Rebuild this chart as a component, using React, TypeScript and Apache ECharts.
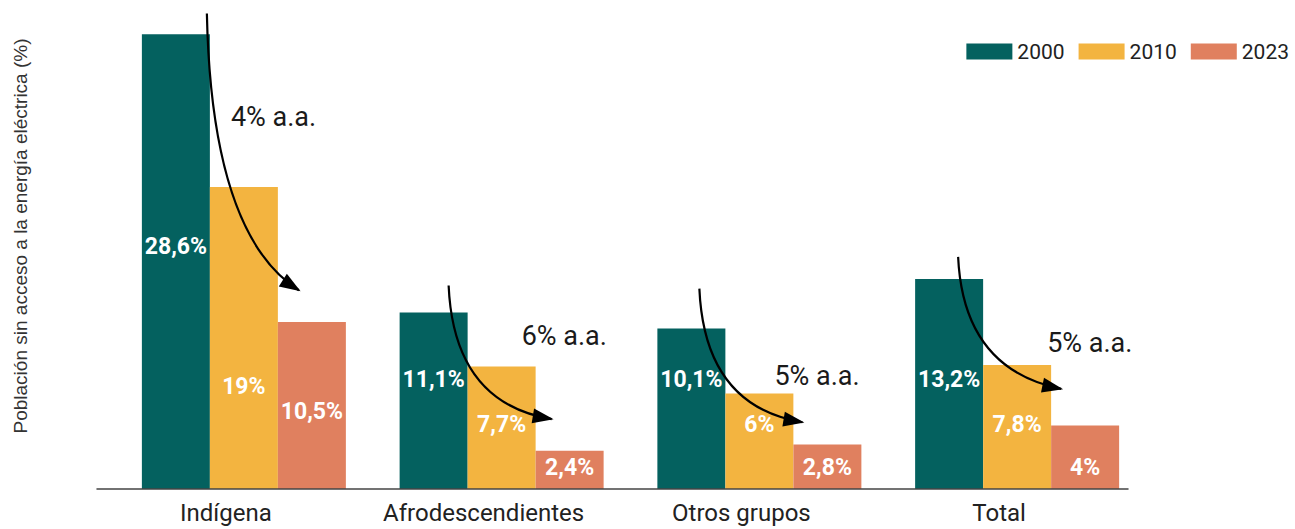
import React, { useEffect, useRef } from "react";
import * as echarts from "echarts";

const categories = ["Indígena", "Afrodescendientes", "Otros grupos", "Total"];
const years = ["2000", "2010", "2023"];
const values2000 = [28.6, 11.1, 10.1, 13.2];
const values2010 = [19, 7.7, 6, 7.8];
const values2023 = [10.5, 2.4, 2.8, 4];
const annualRates = ["4% a.a.", "6% a.a.", "5% a.a.", "5% a.a."];
const yAxisTitle = "Población sin acceso a la energía eléctrica (%)";
const yMax = 30;

// annotation anchors: y in value units, x as pixel offset from group centre
const arrowStartValue = [29.9, 12.8, 12.6, 14.6];
const arrowEndValue = [12.5, 4.4, 4.2, 6.3];
const arrowStartDx = [-37, -53, -60, -59];
const arrowEndDx = [55, 50, 43, 44];
const arrowBend = [0.8, 0.88, 0.88, 0.85];
const rateLabelValue = [23.4, 9.6, 7.1, 9.2];
const rateLabelDx = [-13, 20, 15, 30];

// value-label placement: distance (px) from the bar bottom
const labelDist2000 = [231, 98, 98, 98];
const labelDist2010 = [91, 53, 53, 53];
const labelDist2023 = [66, 10, 10, 10];

const colors = ["#04615F", "#F3B440", "#E0805F"];
const FONT = "Roboto, 'Noto Sans', sans-serif";

const fmt = (v: number) => String(v).replace(".", ",") + "%";

function buildSeries(name: string, vals: number[], dists: number[], color: string) {
  return {
    name,
    type: "bar",
    xAxisIndex: 0,
    yAxisIndex: 0,
    barWidth: 68,
    barGap: "0%",
    itemStyle: { color },
    data: vals.map((v, i) => ({
      value: v,
      label: {
        show: true,
        position: "insideBottom",
        distance: dists[i],
        formatter: () => fmt(v),
        color: "#fff",
        fontWeight: "bold",
        fontSize: 23,
        fontFamily: FONT,
      },
    })),
  };
}

export default function App() {
  const ref = useRef<HTMLDivElement>(null);
  useEffect(() => {
    if (!ref.current) return;
    const chart = echarts.init(ref.current, undefined, { renderer: "svg" });
    const option: any = {
      animation: false,
      backgroundColor: "#fff",
      grid: [
        { left: 115, right: 149, top: 12, bottom: 40 },
        { left: 97, right: 167, top: 12, bottom: 40 },
      ],
      legend: {
        data: years,
        right: 1,
        top: 36,
        icon: "rect",
        itemWidth: 46,
        itemHeight: 16,
        itemGap: 14,
        textStyle: { fontSize: 21, color: "#222", fontFamily: FONT },
      },
      xAxis: [
        { type: "category", gridIndex: 0, data: categories, show: false },
        {
          type: "category",
          gridIndex: 1,
          data: categories,
          axisLine: { show: true, lineStyle: { color: "#444", width: 1.5 } },
          axisTick: { show: false },
          axisLabel: {
            interval: 0,
            fontSize: 24,
            lineHeight: 24,
            color: "#222",
            margin: 12,
            fontFamily: FONT,
          },
          z: 10,
        },
      ],
      yAxis: [
        { type: "value", gridIndex: 0, min: 0, max: yMax, show: false },
        { type: "value", gridIndex: 1, min: 0, max: yMax, show: false },
      ],
      series: [
        buildSeries(years[0], values2000, labelDist2000, colors[0]),
        buildSeries(years[1], values2010, labelDist2010, colors[1]),
        buildSeries(years[2], values2023, labelDist2023, colors[2]),
      ],
    };
    chart.setOption(option);

    const graphics: any[] = [];
    categories.forEach((_, i) => {
      const c = chart.convertToPixel({ xAxisIndex: 0 }, i) as number;
      const py = (v: number) => chart.convertToPixel({ yAxisIndex: 0 }, v) as number;
      const x1 = c + arrowStartDx[i];
      const y1 = py(arrowStartValue[i]);
      const x2 = c + arrowEndDx[i];
      const y2 = py(arrowEndValue[i]);
      const cpx = x1 + 0.05 * (x2 - x1);
      const cpy = y1 + arrowBend[i] * (y2 - y1);
      graphics.push({
        type: "bezierCurve",
        shape: { x1, y1, x2, y2, cpx1: cpx, cpy1: cpy },
        style: { stroke: "#000", lineWidth: 2.2, fill: null },
        z: 20,
      });
      const dx = x2 - cpx;
      const dy = y2 - cpy;
      const len = Math.sqrt(dx * dx + dy * dy);
      const ux = dx / len;
      const uy = dy / len;
      const L = 19;
      const W = 7.5;
      const bx = x2 - L * ux;
      const by = y2 - L * uy;
      graphics.push({
        type: "polygon",
        shape: {
          points: [
            [x2 + 2 * ux, y2 + 2 * uy],
            [bx - W * uy, by + W * ux],
            [bx + W * uy, by - W * ux],
          ],
        },
        style: { fill: "#000" },
        z: 21,
      });
      graphics.push({
        type: "text",
        x: c + rateLabelDx[i],
        y: py(rateLabelValue[i]),
        style: {
          text: annualRates[i],
          font: `27px ${FONT}`,
          fill: "#1a1a1a",
          align: "left",
          verticalAlign: "middle",
        },
        z: 20,
      });
    });
    graphics.push({
      type: "text",
      x: 20,
      y: 236,
      rotation: Math.PI / 2,
      style: {
        text: yAxisTitle,
        font: `19px 'Liberation Sans', Arial, sans-serif`,
        fill: "#333",
        align: "center",
        verticalAlign: "middle",
      },
    });
    chart.setOption({ graphic: graphics });

    return () => chart.dispose();
  }, []);
  return (
    <div
      ref={ref}
      style={{ position: "fixed", left: 0, top: 0, width: 1295, height: 529 }}
    />
  );
}
